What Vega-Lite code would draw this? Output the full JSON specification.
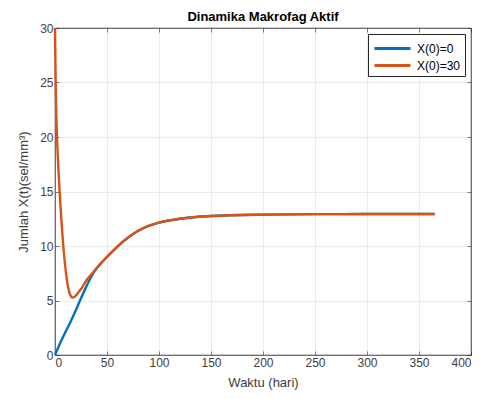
{
  "$schema": "https://vega.github.io/schema/vega-lite/v6.json",
  "width": 416,
  "height": 327,
  "autosize": {"type": "none"},
  "padding": {"left": 55, "top": 28, "right": 17, "bottom": 44},
  "background": "white",
  "title": {"text": "Dinamika Makrofag Aktif", "font": "Liberation Sans", "fontSize": 13, "fontWeight": "bold", "color": "#000000", "offset": -2, "anchor": "middle"},
  "config": {
    "view": {"stroke": "#262626", "strokeWidth": 0.6},
    "axis": {
      "labelFont": "Liberation Sans", "labelFontSize": 12, "labelColor": "#404040",
      "titleFont": "Liberation Sans", "titleFontSize": 13, "titleColor": "#404040", "titleFontWeight": "normal",
      "domainColor": "#262626", "domainWidth": 0.6, "tickColor": "#262626", "tickSize": -4, "tickWidth": 0.6,
      "gridColor": "#e6e6e6", "gridWidth": 0.8
    }
  },
  "data": {"values": [
    {"t": 0, "x": 0, "s": "X(0)=0"},
    {"t": 5, "x": 1.1, "s": "X(0)=0"},
    {"t": 10, "x": 2.1, "s": "X(0)=0"},
    {"t": 15, "x": 3.05, "s": "X(0)=0"},
    {"t": 20, "x": 4.1, "s": "X(0)=0"},
    {"t": 25, "x": 5.2, "s": "X(0)=0"},
    {"t": 30, "x": 6.25, "s": "X(0)=0"},
    {"t": 35, "x": 7.2, "s": "X(0)=0"},
    {"t": 40, "x": 7.95, "s": "X(0)=0"},
    {"t": 45, "x": 8.5, "s": "X(0)=0"},
    {"t": 50, "x": 9.0, "s": "X(0)=0"},
    {"t": 60, "x": 9.95, "s": "X(0)=0"},
    {"t": 70, "x": 10.75, "s": "X(0)=0"},
    {"t": 80, "x": 11.4, "s": "X(0)=0"},
    {"t": 90, "x": 11.85, "s": "X(0)=0"},
    {"t": 100, "x": 12.15, "s": "X(0)=0"},
    {"t": 120, "x": 12.5, "s": "X(0)=0"},
    {"t": 150, "x": 12.75, "s": "X(0)=0"},
    {"t": 200, "x": 12.88, "s": "X(0)=0"},
    {"t": 250, "x": 12.92, "s": "X(0)=0"},
    {"t": 300, "x": 12.93, "s": "X(0)=0"},
    {"t": 365, "x": 12.94, "s": "X(0)=0"},
    {"t": 0, "x": 30, "s": "X(0)=30"},
    {"t": 0.5, "x": 26, "s": "X(0)=30"},
    {"t": 1, "x": 23, "s": "X(0)=30"},
    {"t": 2, "x": 19.8, "s": "X(0)=30"},
    {"t": 3, "x": 17.6, "s": "X(0)=30"},
    {"t": 4, "x": 15.7, "s": "X(0)=30"},
    {"t": 5, "x": 14.1, "s": "X(0)=30"},
    {"t": 6, "x": 12.6, "s": "X(0)=30"},
    {"t": 7, "x": 11.2, "s": "X(0)=30"},
    {"t": 8, "x": 10.0, "s": "X(0)=30"},
    {"t": 9, "x": 8.9, "s": "X(0)=30"},
    {"t": 10, "x": 8.0, "s": "X(0)=30"},
    {"t": 11, "x": 7.2, "s": "X(0)=30"},
    {"t": 12, "x": 6.55, "s": "X(0)=30"},
    {"t": 13, "x": 6.05, "s": "X(0)=30"},
    {"t": 14, "x": 5.68, "s": "X(0)=30"},
    {"t": 15, "x": 5.45, "s": "X(0)=30"},
    {"t": 16, "x": 5.3, "s": "X(0)=30"},
    {"t": 17, "x": 5.27, "s": "X(0)=30"},
    {"t": 18, "x": 5.3, "s": "X(0)=30"},
    {"t": 20, "x": 5.45, "s": "X(0)=30"},
    {"t": 22, "x": 5.68, "s": "X(0)=30"},
    {"t": 25, "x": 6.05, "s": "X(0)=30"},
    {"t": 28, "x": 6.5, "s": "X(0)=30"},
    {"t": 31, "x": 6.95, "s": "X(0)=30"},
    {"t": 35, "x": 7.4, "s": "X(0)=30"},
    {"t": 40, "x": 7.95, "s": "X(0)=30"},
    {"t": 45, "x": 8.5, "s": "X(0)=30"},
    {"t": 50, "x": 9.0, "s": "X(0)=30"},
    {"t": 60, "x": 9.95, "s": "X(0)=30"},
    {"t": 70, "x": 10.75, "s": "X(0)=30"},
    {"t": 80, "x": 11.4, "s": "X(0)=30"},
    {"t": 90, "x": 11.85, "s": "X(0)=30"},
    {"t": 100, "x": 12.15, "s": "X(0)=30"},
    {"t": 120, "x": 12.5, "s": "X(0)=30"},
    {"t": 150, "x": 12.75, "s": "X(0)=30"},
    {"t": 200, "x": 12.88, "s": "X(0)=30"},
    {"t": 250, "x": 12.92, "s": "X(0)=30"},
    {"t": 300, "x": 12.93, "s": "X(0)=30"},
    {"t": 365, "x": 12.94, "s": "X(0)=30"}
  ]},
  "layer": [
    {
      "mark": {"type": "line", "strokeWidth": 2.4, "interpolate": "monotone"},
      "encoding": {
        "x": {"field": "t", "type": "quantitative", "scale": {"domain": [0, 400], "nice": false},
          "axis": {"title": "Waktu (hari)", "values": [0, 50, 100, 150, 200, 250, 300, 350, 400], "titlePadding": 8, "labelPadding": 6}},
        "y": {"field": "x", "type": "quantitative", "scale": {"domain": [0, 30], "nice": false},
          "axis": {"title": "Jumlah X(t)(sel/mm³)", "values": [0, 5, 10, 15, 20, 25, 30], "titlePadding": 9, "labelPadding": 6}},
        "color": {"field": "s", "type": "nominal",
          "scale": {"domain": ["X(0)=0", "X(0)=30"], "range": ["#0072BD", "#D95319"]},
          "legend": {"title": null, "orient": "top-right", "offset": 6, "symbolType": "M-2,0H2", "symbolSize": 324, "symbolStrokeWidth": 3, "symbolOffset": 10, "labelOffset": 14,
            "labelFont": "Liberation Sans", "labelFontSize": 12, "labelColor": "#000000", "rowPadding": 0,
            "strokeColor": "#262626", "fillColor": "white", "padding": 4}}
      }
    },
    {
      "mark": {"type": "line", "opacity": 0},
      "encoding": {
        "x": {"field": "t", "type": "quantitative",
          "axis": {"orient": "top", "title": null, "labels": false, "grid": false, "values": [0, 50, 100, 150, 200, 250, 300, 350, 400]}},
        "y": {"field": "x", "type": "quantitative",
          "axis": {"orient": "right", "title": null, "labels": false, "grid": false, "values": [0, 5, 10, 15, 20, 25, 30]}},
        "detail": {"field": "s", "type": "nominal"}
      }
    }
  ],
  "resolve": {"axis": {"x": "independent", "y": "independent"}}
}
